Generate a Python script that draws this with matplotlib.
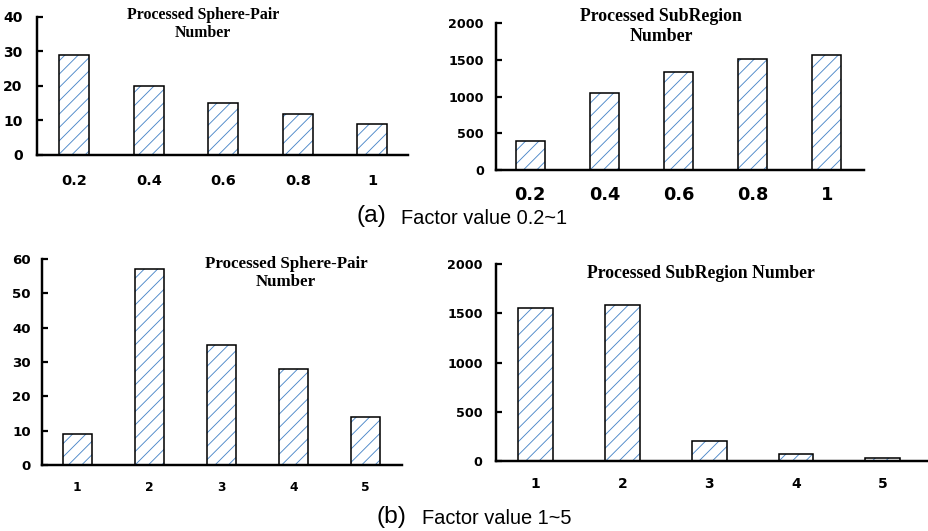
import matplotlib
matplotlib.use("Agg")
import matplotlib.pyplot as plt

# ---------------- data ----------------
cats_a = ["0.2", "0.4", "0.6", "0.8", "1"]
sphere_pair_a = [29, 20, 15, 12, 9]
subregion_a = [400, 1050, 1330, 1510, 1570]

cats_b = ["1", "2", "3", "4", "5"]
sphere_pair_b = [9, 57, 35, 28, 14]
subregion_b = [1550, 1580, 200, 70, 30]

title_sp = "Processed Sphere-Pair\nNumber"
title_sr2 = "Processed SubRegion\nNumber"
title_sr1 = "Processed SubRegion Number"
caption_a = ("(a)", "Factor value 0.2~1")
caption_b = ("(b)", "Factor value 1~5")

# ---------------- style ----------------
W, H, DPI = 928, 531, 80
HATCH_COLOR = "#4a86c8"
plt.rcParams["hatch.linewidth"] = 0.8
TICK_FONT = "DejaVu Sans"
TITLE_FONT = "Liberation Serif"
CAP_FONT = "Liberation Sans"

fig = plt.figure(figsize=(W / DPI, H / DPI), dpi=DPI)


def px_axes(left, right, top, bottom):
    return fig.add_axes([left / W, 1 - bottom / H, (right - left) / W, (bottom - top) / H])


def panel(ax, cats, vals, ylim, yticks, xlim, width, ysize, xsize, ypad, xpad, hatch):
    x = list(range(len(cats)))
    ax.bar(x, vals, width=width, color="white", hatch=hatch, edgecolor=HATCH_COLOR,
           linewidth=0, zorder=2)
    ax.bar(x, vals, width=width, fill=False, edgecolor="black", linewidth=1.4, zorder=3)
    ax.set_xlim(*xlim)
    ax.set_ylim(*ylim)
    ax.set_yticks(yticks)
    ax.set_xticks(x)
    ax.set_xticklabels(cats)
    for s in ("top", "right"):
        ax.spines[s].set_visible(False)
    ax.spines["left"].set_linewidth(2.2)
    ax.spines["bottom"].set_linewidth(2.2)
    ax.spines["left"].set_zorder(4)
    ax.spines["bottom"].set_zorder(4)
    ax.tick_params(axis="y", direction="in", length=5, width=2, pad=ypad,
                   labelsize=ysize)
    ax.tick_params(axis="x", length=0, pad=xpad, labelsize=xsize)
    for lab in ax.get_xticklabels() + ax.get_yticklabels():
        lab.set_fontfamily(TICK_FONT)
        lab.set_fontweight("bold")
    ax.set_facecolor("none")


# panel (a) left
ax1 = px_axes(37, 408, 17, 155)
panel(ax1, cats_a, sphere_pair_a, (0, 40), [0, 10, 20, 30, 40], (-0.5, 4.48), 0.40,
      12.5, 13, 13, 17, "//")
# panel (a) right
ax2 = px_axes(496, 864, 23, 170)
panel(ax2, cats_a, subregion_a, (0, 2000), [0, 500, 1000, 1500, 2000], (-0.46, 4.5), 0.39,
      11.5, 16, 11, 14, "//")
# panel (b) left
ax3 = px_axes(42, 402, 259, 465)
panel(ax3, cats_b, sphere_pair_b, (0, 60), [0, 10, 20, 30, 40, 50, 60], (-0.49, 4.51), 0.40,
      12, 11, 10, 14, "//")
# panel (b) right
ax4 = px_axes(496, 928, 264, 461)
panel(ax4, cats_b, subregion_b, (0, 2000), [0, 500, 1000, 1500, 2000], (-0.455, 4.52), 0.40,
      11.5, 12.5, 12, 14, "//")


def ptext(x, y, s, **kw):
    fig.text(x / W, 1 - y / H, s, **kw)


ptext(203, 24, title_sp, ha="center", va="center", fontsize=14.3, fontweight="bold",
      family=TITLE_FONT, linespacing=1.2)
ptext(661, 26.5, title_sr2, ha="center", va="center", fontsize=16, fontweight="bold",
      family=TITLE_FONT, linespacing=1.2)
ptext(286, 273, title_sp, ha="center", va="center", fontsize=15.2, fontweight="bold",
      family=TITLE_FONT, linespacing=1.1)
ptext(701, 273, title_sr1, ha="center", va="center", fontsize=15.9, fontweight="bold",
      family=TITLE_FONT)

# captions
ptext(356, 216, caption_a[0], ha="left", va="center", fontsize=22, family=CAP_FONT)
ptext(401, 218, caption_a[1], ha="left", va="center", fontsize=18, family=CAP_FONT)
ptext(377, 517, caption_b[0], ha="left", va="center", fontsize=22, family=CAP_FONT)
ptext(422, 519, caption_b[1], ha="left", va="center", fontsize=18, family=CAP_FONT)

fig.savefig("out.png", dpi=DPI)
